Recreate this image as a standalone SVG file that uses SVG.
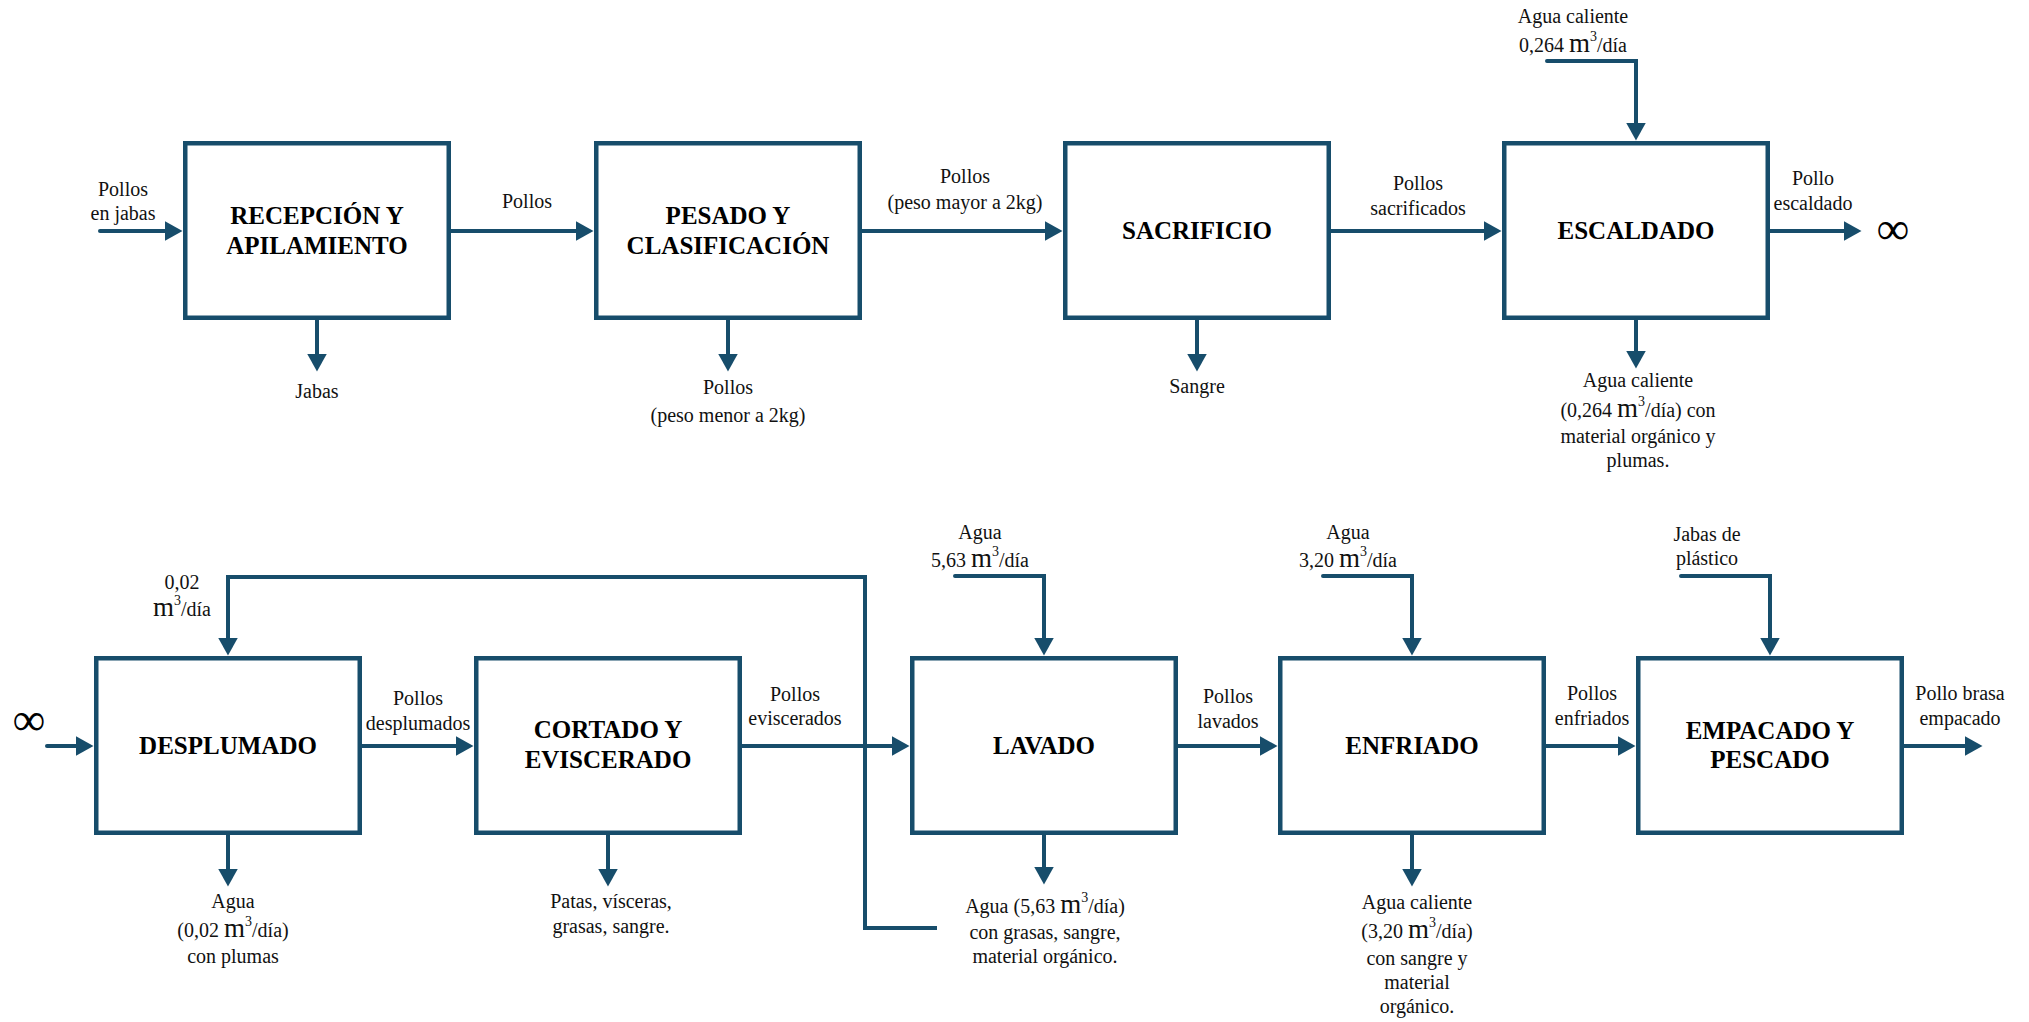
<svg xmlns="http://www.w3.org/2000/svg" width="2029" height="1022" viewBox="0 0 2029 1022">
  <style>
    .box { fill: #ffffff; stroke: #174d6b; stroke-width: 4.5; }
    .title { font-family: "Liberation Serif", "Times New Roman", serif; font-weight: bold; font-size: 25px; fill: #000; text-anchor: middle; }
    .lbl { font-family: "Liberation Serif", "Times New Roman", serif; font-size: 20px; fill: #111; text-anchor: middle; }
    .m { font-size: 27px; }
    .sup { font-size: 14px; }
    .inf { font-family: "Liberation Serif", "Times New Roman", serif; font-size: 46px; fill: #000; text-anchor: middle; }
    .flow { fill: none; stroke: #174d6b; stroke-width: 4; stroke-linecap: round; stroke-linejoin: miter; marker-end: url(#arrow); }
    .plain { fill: none; stroke: #174d6b; stroke-width: 4; stroke-linejoin: miter; }
  </style>
  <defs>
    <marker id="arrow" viewBox="0 0 18 20" refX="0.5" refY="10" markerWidth="18" markerHeight="20" markerUnits="userSpaceOnUse" orient="auto">
      <path d="M0,0 L18,10 L0,20 Z" fill="#174d6b"/>
    </marker>
  </defs>
  <rect width="2029" height="1022" fill="#ffffff"/>

  <!-- process blocks, top row -->
  <g id="recepcion">
    <rect class="box" x="185.25" y="143.25" width="263.5" height="174.5"/>
    <text class="title" x="317" y="224">RECEPCIÓN Y</text>
    <text class="title" x="317" y="254">APILAMIENTO</text>
  </g>
  <g id="pesado">
    <rect class="box" x="596.25" y="143.25" width="263.5" height="174.5"/>
    <text class="title" x="728" y="224">PESADO Y</text>
    <text class="title" x="728" y="254">CLASIFICACIÓN</text>
  </g>
  <g id="sacrificio">
    <rect class="box" x="1065.25" y="143.25" width="263.5" height="174.5"/>
    <text class="title" x="1197" y="239">SACRIFICIO</text>
  </g>
  <g id="escaldado">
    <rect class="box" x="1504.25" y="143.25" width="263.5" height="174.5"/>
    <text class="title" x="1636" y="239">ESCALDADO</text>
  </g>

  <!-- process blocks, bottom row -->
  <g id="desplumado">
    <rect class="box" x="96.25" y="658.25" width="263.5" height="174.5"/>
    <text class="title" x="228" y="754">DESPLUMADO</text>
  </g>
  <g id="cortado">
    <rect class="box" x="476.25" y="658.25" width="263.5" height="174.5"/>
    <text class="title" x="608" y="738">CORTADO Y</text>
    <text class="title" x="608" y="768">EVISCERADO</text>
  </g>
  <g id="lavado">
    <rect class="box" x="912.25" y="658.25" width="263.5" height="174.5"/>
    <text class="title" x="1044" y="754">LAVADO</text>
  </g>
  <g id="enfriado">
    <rect class="box" x="1280.25" y="658.25" width="263.5" height="174.5"/>
    <text class="title" x="1412" y="754">ENFRIADO</text>
  </g>
  <g id="empacado">
    <rect class="box" x="1638.25" y="658.25" width="263.5" height="174.5"/>
    <text class="title" x="1770" y="739">EMPACADO Y</text>
    <text class="title" x="1770" y="768">PESCADO</text>
  </g>

  <!-- flows -->
  <g id="connectors">
    <!-- top row main line -->
    <path class="flow" d="M100,231 H165"/>
    <path class="flow" d="M451,231 H576"/>
    <path class="flow" d="M862,231 H1045"/>
    <path class="flow" d="M1331,231 H1484"/>
    <path class="flow" d="M1770,231 H1844"/>
    <!-- top row side streams -->
    <path class="flow" d="M1547,61 H1636 V123"/>
    <path class="flow" d="M317,320 V354"/>
    <path class="flow" d="M728,320 V354"/>
    <path class="flow" d="M1197,320 V354"/>
    <path class="flow" d="M1636,320 V351"/>
    <!-- bottom row main line -->
    <path class="flow" d="M47,746 H76"/>
    <path class="flow" d="M362,746 H456"/>
    <path class="flow" d="M742,746 H892"/>
    <path class="flow" d="M1178,746 H1260"/>
    <path class="flow" d="M1546,746 H1618"/>
    <path class="flow" d="M1904,746 H1965"/>
    <!-- bottom row inputs -->
    <path class="flow" d="M955,576 H1044 V638"/>
    <path class="flow" d="M1323,576 H1412 V638"/>
    <path class="flow" d="M1681,576 H1770 V638"/>
    <!-- water recirculated from washing to plucking -->
    <path class="flow" d="M937,928 H865 V577 H228 V638" style="stroke-linecap: butt"/>
    <!-- bottom row outputs -->
    <path class="flow" d="M228,835 V869"/>
    <path class="flow" d="M608,835 V869"/>
    <path class="flow" d="M1044,835 V867"/>
    <path class="flow" d="M1412,835 V869"/>
  </g>

  <!-- stream labels, top row -->
  <g id="labels-top">
    <text class="lbl" x="123" y="196">Pollos</text>
    <text class="lbl" x="123" y="220">en jabas</text>
    <text class="lbl" x="527" y="208">Pollos</text>
    <text class="lbl" x="965" y="183">Pollos</text>
    <text class="lbl" x="965" y="209">(peso mayor a 2kg)</text>
    <text class="lbl" x="1418" y="190">Pollos</text>
    <text class="lbl" x="1418" y="215">sacrificados</text>
    <text class="lbl" x="1813" y="185">Pollo</text>
    <text class="lbl" x="1813" y="210">escaldado</text>
    <text class="inf" x="1893" y="244">∞</text>
    <text class="lbl" x="1573" y="23">Agua caliente</text>
    <text class="lbl" x="1573" y="52">0,264 <tspan class="m">m</tspan><tspan class="sup" dy="-11">3</tspan><tspan dy="11">/día</tspan></text>
    <text class="lbl" x="317" y="398">Jabas</text>
    <text class="lbl" x="728" y="394">Pollos</text>
    <text class="lbl" x="728" y="422">(peso menor a 2kg)</text>
    <text class="lbl" x="1197" y="393">Sangre</text>
    <text class="lbl" x="1638" y="387">Agua caliente</text>
    <text class="lbl" x="1638" y="417">(0,264 <tspan class="m">m</tspan><tspan class="sup" dy="-11">3</tspan><tspan dy="11">/día) con</tspan></text>
    <text class="lbl" x="1638" y="443">material orgánico y</text>
    <text class="lbl" x="1638" y="467">plumas.</text>
  </g>

  <!-- stream labels, bottom row -->
  <g id="labels-bottom">
    <text class="inf" x="29" y="735">∞</text>
    <text class="lbl" x="182" y="589">0,02</text>
    <text class="lbl" x="182" y="616"><tspan class="m">m</tspan><tspan class="sup" dy="-11">3</tspan><tspan dy="11">/día</tspan></text>
    <text class="lbl" x="418" y="705">Pollos</text>
    <text class="lbl" x="418" y="730">desplumados</text>
    <text class="lbl" x="795" y="701">Pollos</text>
    <text class="lbl" x="795" y="725">eviscerados</text>
    <text class="lbl" x="980" y="539">Agua</text>
    <text class="lbl" x="980" y="567">5,63 <tspan class="m">m</tspan><tspan class="sup" dy="-11">3</tspan><tspan dy="11">/día</tspan></text>
    <text class="lbl" x="1228" y="703">Pollos</text>
    <text class="lbl" x="1228" y="728">lavados</text>
    <text class="lbl" x="1348" y="539">Agua</text>
    <text class="lbl" x="1348" y="567">3,20 <tspan class="m">m</tspan><tspan class="sup" dy="-11">3</tspan><tspan dy="11">/día</tspan></text>
    <text class="lbl" x="1592" y="700">Pollos</text>
    <text class="lbl" x="1592" y="725">enfriados</text>
    <text class="lbl" x="1707" y="541">Jabas de</text>
    <text class="lbl" x="1707" y="565">plástico</text>
    <text class="lbl" x="1960" y="700">Pollo brasa</text>
    <text class="lbl" x="1960" y="725">empacado</text>
    <text class="lbl" x="233" y="908">Agua</text>
    <text class="lbl" x="233" y="937">(0,02 <tspan class="m">m</tspan><tspan class="sup" dy="-11">3</tspan><tspan dy="11">/día)</tspan></text>
    <text class="lbl" x="233" y="963">con plumas</text>
    <text class="lbl" x="611" y="908">Patas, vísceras,</text>
    <text class="lbl" x="611" y="933">grasas, sangre.</text>
    <text class="lbl" x="1045" y="913">Agua (5,63 <tspan class="m">m</tspan><tspan class="sup" dy="-11">3</tspan><tspan dy="11">/día)</tspan></text>
    <text class="lbl" x="1045" y="939">con grasas, sangre,</text>
    <text class="lbl" x="1045" y="963">material orgánico.</text>
    <text class="lbl" x="1417" y="909">Agua caliente</text>
    <text class="lbl" x="1417" y="938">(3,20 <tspan class="m">m</tspan><tspan class="sup" dy="-11">3</tspan><tspan dy="11">/día)</tspan></text>
    <text class="lbl" x="1417" y="965">con sangre y</text>
    <text class="lbl" x="1417" y="989">material</text>
    <text class="lbl" x="1417" y="1013">orgánico.</text>
  </g>
</svg>
